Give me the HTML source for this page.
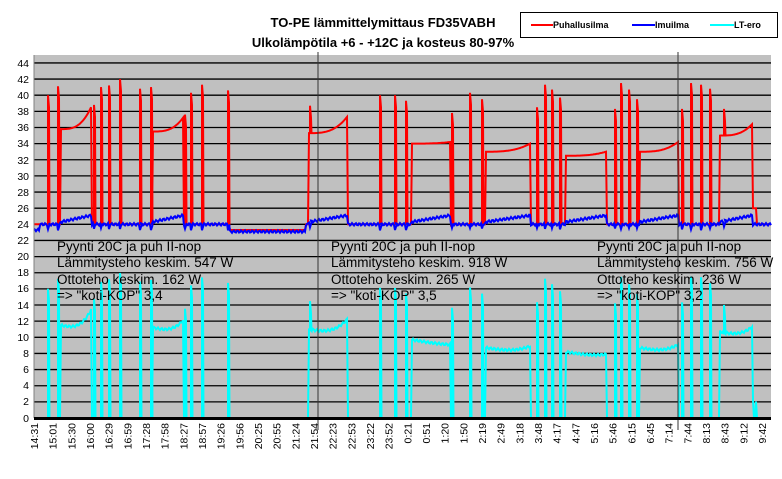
<!DOCTYPE html>
<html><head><meta charset="utf-8"><style>
html,body{margin:0;padding:0;background:#fff;}
svg{display:block;font-family:"Liberation Sans",Arial,sans-serif;}
</style></head><body>
<svg id="s" width="782" height="479" viewBox="0 0 782 479" xmlns="http://www.w3.org/2000/svg">
<rect x="0" y="0" width="782" height="479" fill="#fff"/>
<rect x="34" y="55" width="737" height="363" fill="#c0c0c0"/>
<g id="grid" stroke="#000" stroke-width="1.3"></g>
<g id="series"></g>
<line x1="318" y1="52" x2="318" y2="430" stroke="#333" stroke-width="1"/>
<line x1="678" y1="52" x2="678" y2="430" stroke="#333" stroke-width="1"/>
<line x1="34" y1="55" x2="34" y2="418" stroke="#808080" stroke-width="1"/>
<line x1="34" y1="418.5" x2="771" y2="418.5" stroke="#000" stroke-width="3"/>
<g font-size="10.5" text-anchor="end" fill="#000">
<text x="29" y="67">44</text><text x="29" y="83">42</text><text x="29" y="99">40</text><text x="29" y="115">38</text><text x="29" y="131">36</text><text x="29" y="147">34</text><text x="29" y="164">32</text><text x="29" y="180">30</text><text x="29" y="196">28</text><text x="29" y="212">26</text><text x="29" y="228">24</text><text x="29" y="244">22</text><text x="29" y="260">20</text><text x="29" y="276">18</text><text x="29" y="292">16</text><text x="29" y="309">14</text><text x="29" y="325">12</text><text x="29" y="341">10</text><text x="29" y="357">8</text><text x="29" y="373">6</text><text x="29" y="389">4</text><text x="29" y="405">2</text><text x="29" y="422">0</text>
</g>
<g font-size="10.5" text-anchor="end" fill="#000" id="xl">
<text transform="translate(38,423) rotate(-90)">14:31</text>
<text transform="translate(67,423) rotate(-90)">15:01</text>
<text transform="translate(96,423) rotate(-90)">15:30</text>
<text transform="translate(125,423) rotate(-90)">16:00</text>
<text transform="translate(155,423) rotate(-90)">16:29</text>
<text transform="translate(184,423) rotate(-90)">16:59</text>
<text transform="translate(213,423) rotate(-90)">17:28</text>
<text transform="translate(242,423) rotate(-90)">17:58</text>
<text transform="translate(271,423) rotate(-90)">18:27</text>
<text transform="translate(300,423) rotate(-90)">18:57</text>
</g>
<g font-size="13" font-weight="bold" text-anchor="middle">
<text x="383" y="27">TO-PE lämmittelymittaus FD35VABH</text>
<text x="383" y="47">Ulkolämpötila +6 - +12C ja kosteus 80-97%</text>
</g>
<rect x="520.5" y="12.5" width="257" height="25" fill="#fff" stroke="#000" stroke-width="1"/>
<g font-size="9" font-weight="bold">
<line x1="531" y1="25" x2="553" y2="25" stroke="#f00" stroke-width="2"/><text x="553" y="28">Puhallusilma</text>
<line x1="632" y1="25" x2="655" y2="25" stroke="#00f" stroke-width="2"/><text x="655" y="28">Imuilma</text>
<line x1="710" y1="25" x2="734" y2="25" stroke="#0ff" stroke-width="2"/><text x="734" y="28">LT-ero</text>
</g>
<g font-size="13.5" fill="#000">
<text x="57" y="251">Pyynti 20C ja puh II-nop</text>
<text x="57" y="267">Lämmitysteho keskim. 547 W</text>
<text x="57" y="284">Ottoteho keskim. 162 W</text>
<text x="57" y="300">=&gt; "koti-KOP" 3,4</text>
<text x="331" y="251">Pyynti 20C ja puh II-nop</text>
<text x="331" y="267">Lämmitysteho keskim. 918 W</text>
<text x="331" y="284">Ottoteho keskim. 265 W</text>
<text x="331" y="300">=&gt; "koti-KOP" 3,5</text>
<text x="597" y="251">Pyynti 20C ja puh II-nop</text>
<text x="597" y="267">Lämmitysteho keskim. 756 W</text>
<text x="597" y="284">Ottoteho keskim. 236 W</text>
<text x="597" y="300">=&gt; "koti-KOP" 3,2</text>
</g>
</svg>
<script>
(function(){
var NS="http://www.w3.org/2000/svg";
function Y(v){return 418-v*8.07;}
var g=document.getElementById('grid');
for(var v=2;v<=44;v+=2){var l=document.createElementNS(NS,'line');l.setAttribute('x1',34);l.setAttribute('x2',771);l.setAttribute('y1',Y(v));l.setAttribute('y2',Y(v));g.appendChild(l);}
var labs=["14:31","15:01","15:30","16:00","16:29","16:59","17:28","17:58","18:27","18:57","19:26","19:56","20:25","20:55","21:24","21:54","22:23","22:53","23:22","23:52","0:21","0:51","1:20","1:50","2:19","2:49","3:18","3:48","4:17","4:47","5:16","5:46","6:15","6:45","7:14","7:44","8:13","8:43","9:12","9:42"];
var xl=document.getElementById('xl');xl.innerHTML='';
var step=(766-38)/(labs.length-1);
for(var i=0;i<labs.length;i++){var t=document.createElementNS(NS,'text');t.setAttribute('transform','translate('+(38+i*step).toFixed(1)+',423) rotate(-90)');t.textContent=labs[i];xl.appendChild(t);}
var plats=[[61,91,35.8,38.5],[153,183,35.5,37.2],[309,347,35.3,37.3],[412,450,34,34.2],[486,530,33,34],[566,606,32.5,33],[640,678,33,34.2],[720,752,35,36.4]];
var spikes=[[48,40],[58,41.1],[94,38.8],[101,41],[109,41.2],[120,42],[140,40.8],[151,41],[185,37.6],[191,40.3],[202,41.3],[228,40.6],[310,38.7],[380,40],[395,40],[406,39.3],[452,37.8],[470,40.3],[482,39.5],[537,38.5],[545,41.3],[552,40.7],[560,39.7],[615,38.3],[621,41.5],[629,40.7],[637,39.5],[682,38.3],[691,41.5],[701,41.3],[710,40.8],[724,38.3]];
function base(x){if(x>=230&&x<=305)return 23.3;return 24;}
function bl(x){var b=24;for(var i=0;i<plats.length;i++){var p=plats[i];if(x>=p[0]&&x<=p[1])b=24.3+0.8*(x-p[0])/(p[1]-p[0]);}if(x>=230&&x<=305)b=23.1;if(x<40)b=23.3;return b+0.15*Math.sin(x*1.7);}
function redAt(x){for(var i=0;i<plats.length;i++){var p=plats[i];if(x>=p[0]&&x<=p[1])return p[2]+(p[3]-p[2])*Math.pow((x-p[0])/(p[1]-p[0]),3);}if(x>752&&x<757)return 26;return base(x);}
var R=[],B=[],C=[];
var sp={};spikes.forEach(function(s){sp[s[0]]=s[1];});
for(var x=34;x<=771;x++){
 var r=redAt(x),b=bl(x);
 if(sp[x]!==undefined){var pk=sp[x];var rb=Math.max(r,b);
  R.push([x,rb],[x,pk],[x+1,pk-1.5],[x+1.5,rb]);
  B.push([x,b-0.6],[x+1.5,b]);
  C.push([x,Math.max(0,rb-b-0.3)],[x,pk-b],[x+1,pk-b-1.5],[x+1.5,Math.max(0,rb-b-0.3)]);
 } else {
  R.push([x,r]);B.push([x,b]);var c=r-b;C.push([x,c>2?c:0]);
 }
}
function path(arr,col,w){var d='M'+arr.map(function(p){return p[0].toFixed(1)+','+Y(p[1]).toFixed(1);}).join('L');var e=document.createElementNS(NS,'path');e.setAttribute('d',d);e.setAttribute('fill','none');e.setAttribute('stroke',col);e.setAttribute('stroke-width',w);document.getElementById('series').appendChild(e);}
path(C,'#00ffff',2);path(R,'#ff0000',2);path(B,'#0000ff',2);
})();
</script>
</body></html>
